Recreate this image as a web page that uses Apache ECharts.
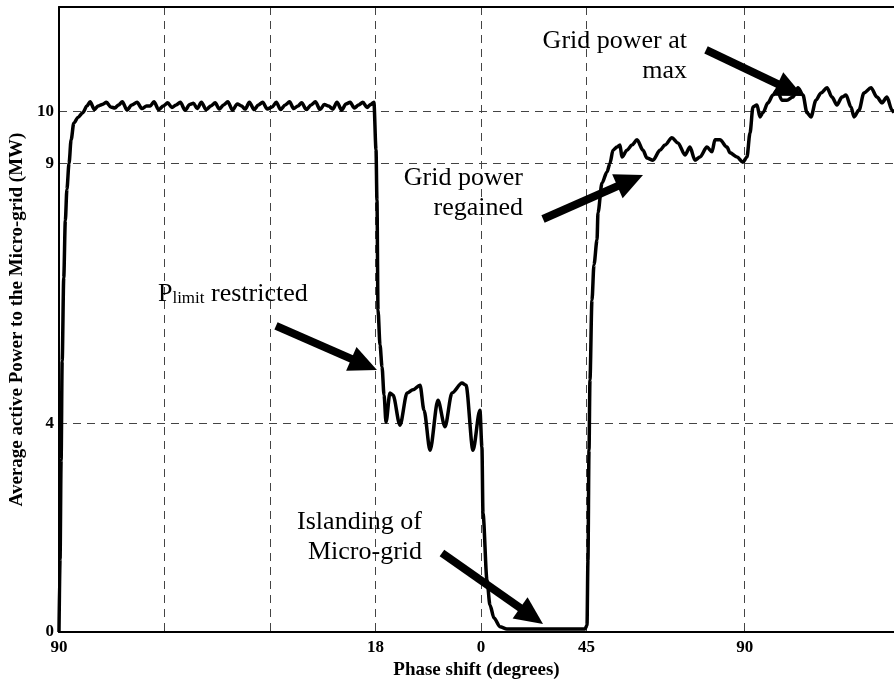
<!DOCTYPE html>
<html>
<head>
<meta charset="utf-8">
<script src="https://cdn.jsdelivr.net/npm/echarts@6/dist/echarts.min.js"></script>
<style>
  html, body { margin: 0; padding: 0; background: #fff; }
  #chart { width: 894px; height: 679px; }
</style>
</head>
<body>
<div id="chart"></div>
<script>
// Simulation time (one unit per grid division) and averaged active power (MW)
const timeValues = [
  0, 0.01, 0.02, 0.03, 0.045, 0.06, 0.075, 0.095, 0.115, 0.14, 0.18, 0.225, 0.265, 0.295,
  0.335, 0.37, 0.41, 0.45, 0.49, 0.53, 0.565, 0.60, 0.645, 0.69, 0.74, 0.785, 0.83, 0.865, 0.90, 0.945,
  0.99, 1.03, 1.07, 1.11, 1.15, 1.195, 1.24, 1.275, 1.31, 1.35, 1.395, 1.44, 1.48, 1.52, 1.56, 1.60,
  1.645, 1.69, 1.73, 1.765, 1.805, 1.85, 1.89, 1.93, 1.975, 2.02, 2.06, 2.10, 2.145, 2.185, 2.225,
  2.265, 2.30, 2.345, 2.39, 2.43, 2.475, 2.515, 2.555, 2.595, 2.635, 2.68, 2.72, 2.76, 2.80, 2.84,
  2.88, 2.92, 2.955, 2.985,
  3.005, 3.014, 3.024, 3.043, 3.062, 3.081, 3.1, 3.137, 3.166, 3.232, 3.3, 3.355, 3.422, 3.46, 3.517,
  3.592, 3.659, 3.725, 3.82, 3.858, 3.924, 3.99, 4.009, 4.019, 4.057, 4.085, 4.123, 4.18, 4.246, 4.986,
  5.005, 5.014, 5.024, 5.033, 5.052, 5.071, 5.1, 5.109, 5.147, 5.194, 5.223, 5.251, 5.289, 5.318, 5.336,
  5.384, 5.431, 5.479, 5.536, 5.573, 5.63, 5.697, 5.744, 5.81, 5.867, 5.934, 5.981, 6.028, 6.076, 6.142,
  6.19, 6.218, 6.265, 6.332, 6.36, 6.427, 6.483, 6.521, 6.55, 6.578, 6.616, 6.645, 6.673, 6.72, 6.768,
  6.806, 6.853, 6.9, 6.957, 7.005, 7.052, 7.09, 7.128, 7.175, 7.223, 7.28, 7.327, 7.374, 7.422, 7.46,
  7.507, 7.536, 7.583, 7.63, 7.697, 7.754, 7.801, 7.848, 7.896, 7.915
];
const powerValues = [
  0, 1.4, 3.3, 5.2, 6.8, 7.9, 8.5, 9.0, 9.45, 9.77, 9.88, 9.97, 10.1, 10.18,
  10.03, 10.1, 10.13, 10.17, 10.08, 10.06, 10.12, 10.18, 10.02, 10.12, 10.17, 10.05, 10.1, 10.1, 10.18, 10.03,
  10.1, 10.16, 10.07, 10.12, 10.17, 10.02, 10.13, 10.15, 10.05, 10.17, 10.03, 10.1, 10.16, 10.04, 10.12, 10.18,
  10.02, 10.14, 10.1, 10.04, 10.17, 10.03, 10.12, 10.17, 10.04, 10.08, 10.17, 10.03, 10.12, 10.18, 10.05,
  10.1, 10.16, 10.03, 10.12, 10.18, 10.03, 10.13, 10.1, 10.04, 10.17, 10.02, 10.14, 10.17, 10.06, 10.12,
  10.17, 10.07, 10.13, 10.17,
  9.26, 8.29, 6.18, 5.51, 5.09, 4.55, 4.03, 4.59, 4.55, 3.97, 4.59, 4.65, 4.74, 4.26, 3.49,
  4.45, 3.94, 4.59, 4.78, 4.74, 3.49, 4.26, 3.55, 2.28, 1.0, 0.52, 0.27, 0.1, 0.06, 0.06,
  0.13, 1.38, 3.49, 4.84, 6.37, 7.05, 7.53, 8.05, 8.62, 8.83, 9.0, 9.25, 9.31, 9.35, 9.12,
  9.25, 9.35, 9.45, 9.25, 9.1, 9.06, 9.25, 9.35, 9.49, 9.39, 9.16, 9.31, 9.06, 9.12, 9.31,
  9.22, 9.45, 9.45, 9.31, 9.2, 9.12, 9.02, 9.12, 9.58, 10.08, 10.12, 9.89, 9.97, 10.16, 10.31,
  10.41, 10.21, 10.21, 10.27, 10.45, 10.31, 9.97, 9.89, 10.21, 10.35, 10.45, 10.27, 10.12, 10.27, 10.31,
  10.08, 9.89, 10.02, 10.35, 10.45, 10.27, 10.16, 10.27, 10.02, 9.97
];

// Axis ticks: grid divisions and phase-shift labels
const xGridValues = [0, 1, 2, 3, 4, 5, 6.5];
const xLabelValues = [0, 3, 4, 5, 6.5];
const xLabelTexts = ['90', '18', '0', '45', '90'];
const yTickValues = [0, 4, 9, 10];

// Event notes: text anchor and arrow tail/tip in axis units
const noteTexts = ['Grid power at\nmax', 'Grid power\nregained', 'Islanding of\nMicro-grid'];
const noteAnchors = [[5.953, 11.06], [4.398, 8.42], [3.441, 1.824]];
const plimitAnchor = [0.938, 6.49];
const arrowTails = [[6.133, 11.175], [4.588, 7.93], [2.057, 5.876], [3.630, 1.517]];
const arrowTips = [[7.052, 10.29], [5.536, 8.775], [3.014, 5.03], [4.588, 0.154]];

const serif = '"Liberation Serif", "Times New Roman", serif';
const chart = echarts.init(document.getElementById('chart'), null, { renderer: 'canvas' });

const gridDash = { color: '#444', width: 1, type: [8, 6] };

chart.setOption({
  animation: false,
  backgroundColor: '#fff',
  grid: { left: 59, right: 0, top: 7, bottom: 47, containLabel: false, outerBoundsMode: 'none' },
  xAxis: [{
    type: 'value', min: 0, max: 7.915, position: 'bottom',
    name: 'Phase shift (degrees)', nameLocation: 'middle', nameGap: 28,
    nameTextStyle: { fontFamily: serif, fontWeight: 'bold', fontSize: 19, color: '#000' },
    axisLine: { show: true, lineStyle: { color: '#000', width: 2 } },
    axisTick: { show: false, customValues: xGridValues },
    axisLabel: {
      customValues: xLabelValues, margin: 7,
      fontFamily: serif, fontWeight: 'bold', fontSize: 17, color: '#000',
      formatter: v => xLabelTexts[xLabelValues.indexOf(v)] ?? ''
    },
    splitLine: { show: true, lineStyle: gridDash }
  }, {
    type: 'value', min: 0, max: 7.915, position: 'top',
    axisLine: { show: true, lineStyle: { color: '#000', width: 2 } },
    axisTick: { show: false }, axisLabel: { show: false }, splitLine: { show: false }
  }],
  yAxis: {
    type: 'value', min: 0, max: 12,
    name: 'Average active Power to the Micro-grid (MW)', nameLocation: 'middle', nameGap: 30,
    nameTextStyle: { fontFamily: serif, fontWeight: 'bold', fontSize: 19, color: '#000' },
    axisLine: { show: true, lineStyle: { color: '#000', width: 2 } },
    axisTick: { show: false, customValues: yTickValues },
    axisLabel: {
      customValues: yTickValues, margin: 5,
      fontFamily: serif, fontWeight: 'bold', fontSize: 17, color: '#000'
    },
    splitLine: { show: true, lineStyle: gridDash }
  },
  series: [{
    type: 'line',
    data: timeValues.map((t, i) => [t, powerValues[i]]),
    showSymbol: false,
    smooth: 0.3,
    smoothMonotone: 'x',
    lineStyle: { color: '#000', width: 3.5, join: 'round' },
    z: 5
  }]
});

// Annotations placed through the chart's coordinate system
function px(p) { return chart.convertToPixel({ gridIndex: 0 }, p); }

function arrow(tail, tip) {
  const a = px(tail), b = px(tip);
  const dx = b[0] - a[0], dy = b[1] - a[1];
  const len = Math.hypot(dx, dy);
  const ux = dx / len, uy = dy / len;
  const headLen = 28, headHalf = 13;
  const bx = b[0] - ux * headLen, by = b[1] - uy * headLen;
  return [{
    type: 'line', z: 10,
    shape: { x1: a[0], y1: a[1], x2: bx + ux * 2, y2: by + uy * 2 },
    style: { stroke: '#000', lineWidth: 8, lineCap: 'butt' }
  }, {
    type: 'polygon', z: 10,
    shape: { points: [[b[0], b[1]], [bx - uy * headHalf, by + ux * headHalf], [bx + uy * headHalf, by - ux * headHalf]] },
    style: { fill: '#000' }
  }];
}

const graphics = [];
noteTexts.forEach((txt, i) => {
  const p = px(noteAnchors[i]);
  graphics.push({
    type: 'text', z: 10, x: p[0], y: p[1],
    style: { text: txt, font: '26px ' + serif, fill: '#000', align: 'right', verticalAlign: 'middle', lineHeight: 30 }
  });
});
const pl = px(plimitAnchor);
graphics.push({
  type: 'text', z: 10, x: pl[0], y: pl[1],
  style: {
    text: '{p|P}{s|limit}{n| restricted}', align: 'left', verticalAlign: 'middle', fill: '#000',
    rich: {
      p: { font: '26px ' + serif, fill: '#000', verticalAlign: 'bottom' },
      s: { font: '17px ' + serif, fill: '#000', verticalAlign: 'bottom', lineHeight: 22 },
      n: { font: '26px ' + serif, fill: '#000', verticalAlign: 'bottom' }
    }
  }
});
arrowTails.forEach((t, i) => graphics.push(...arrow(t, arrowTips[i])));
chart.setOption({ graphic: graphics });
</script>
</body>
</html>
